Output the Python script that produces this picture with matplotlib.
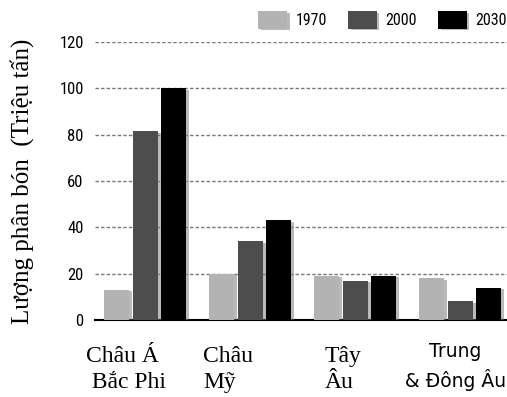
import matplotlib.pyplot as plt
import matplotlib.patheffects as pe
import numpy as np

regions = ['Châu Á\n Bắc Phi', 'Châu\nMỹ', 'Tây\nÂu', 'Trung\n& Đông Âu']
years = ['1970', '2000', '2030']
v1970 = [13, 20, 19, 18]
v2000 = [81.5, 34, 17, 8]
v2030 = [100, 43, 19, 14]
yticks = [0, 20, 40, 60, 80, 100, 120]

colors = ['#b3b3b3', '#4d4d4d', '#000000']
narrow = ['Liberation Sans Narrow', 'DejaVu Sans Condensed', 'Roboto Condensed', 'DejaVu Sans']

fig = plt.figure(figsize=(5.07, 3.97), dpi=100)
ax = fig.add_axes([0.187, 0.194, 0.813, 0.700])

x = np.arange(len(regions))
w = 0.238
step = 0.271
shadow = [pe.SimplePatchShadow(offset=(2, -1), shadow_rgbFace='#777777', alpha=0.5), pe.Normal()]
for i, (vals, c, lab) in enumerate(zip([v1970, v2000, v2030], colors, years)):
    bars = ax.bar(x + (i - 1) * step, vals, width=w, color=c, label=lab, zorder=3)
    for b in bars:
        b.set_path_effects(shadow)

ax.set_ylim(0, 120)
ax.set_xlim(-0.481, 3.443)
ax.set_yticks(yticks)
ax.set_yticklabels([str(t) for t in yticks], fontsize=12, family=narrow)
ax.tick_params(axis='y', length=0, pad=8)
ax.set_xticks([])
for t in yticks[1:]:
    ax.axhline(t, color='#7a7a7a', linestyle=(0, (2.5, 1.5)), linewidth=1, zorder=1)
for s in ['top', 'right', 'left']:
    ax.spines[s].set_visible(False)
ax.spines['bottom'].set_linewidth(1.5)

# category labels under the axis (first three serif, last one sans)
serif_x = [-0.567, 0.548, 1.710]
for lx, txt in zip(serif_x, regions[:3]):
    ax.text(lx, -0.095, txt, transform=ax.get_xaxis_transform(), ha='left', va='top',
            fontsize=17, family='Liberation Serif', linespacing=1.3)
ax.text(2.95, -0.08, regions[3], transform=ax.get_xaxis_transform(), ha='center', va='top',
        fontsize=13.5, family='DejaVu Sans', linespacing=1.42)

fig.text(0.0434, 0.544, 'Lượng phân bón  (Triệu tấn)', rotation=90, ha='center', va='center',
         fontsize=18, family='Liberation Serif')

leg = fig.legend(loc='center right', bbox_to_anchor=(1.0, 0.95), ncol=3, frameon=False,
                 prop={'family': narrow, 'size': 11.5}, handlelength=1.8, handleheight=1.3,
                 columnspacing=1.3, handletextpad=0.56, borderpad=0, borderaxespad=0)

fig.savefig('out.png', dpi=100)
